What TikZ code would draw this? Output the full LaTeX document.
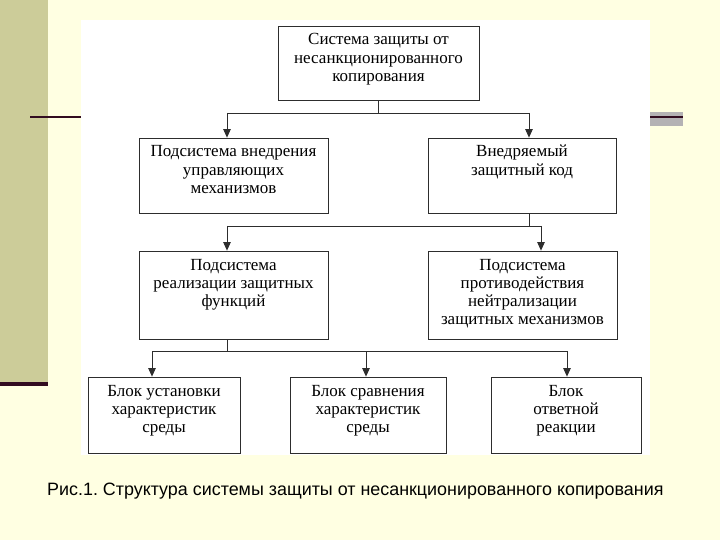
\documentclass[tikz,border=0pt]{standalone}
\usepackage{fontspec}
\setmainfont{Liberation Serif}
\newfontfamily\capfont{Liberation Sans}
\usetikzlibrary{arrows.meta}
\frenchspacing

\definecolor{cream}{RGB}{255,255,226}
\definecolor{khaki}{RGB}{204,204,153}
\definecolor{darkmaroon}{RGB}{50,12,32}
\definecolor{bargray}{RGB}{180,178,180}
\definecolor{linegray}{RGB}{45,45,45}

% top-aligned text block of fixed size
\newcommand{\blocktext}[3]{\parbox[c][#2][t]{#1}{\centering\rule{0pt}{19pt}#3}}

\begin{document}
\begin{tikzpicture}[x=1pt,y=-1pt]
        \useasboundingbox (0,0) rectangle (720,540);

        % slide backdrop
        \fill[cream] (0,0) rectangle (720,540);
        \fill[khaki] (0,0) rectangle (48,382);
        \fill[darkmaroon] (0,382) rectangle (48,386);
        \draw[darkmaroon, line width=2pt] (30,117) -- (81,117);
        \fill[bargray] (649,112) rectangle (683,126);
        \draw[darkmaroon, line width=1.4pt] (649,117) -- (683,117);
        \fill[white] (81,20) rectangle (650,455);

        \begin{scope}[every node/.style={draw=linegray,line width=0.8pt,inner sep=0pt,
            text=black,font=\fontsize{17}{18.3}\selectfont}]
          \node (sys)    at (378.5,63)  {\blocktext{201pt}{74pt}{Система защиты от\\несанкционированного\\копирования}};
          \node (vnedr)  at (233.5,175.5) {\blocktext{189pt}{75pt}{Подсистема внедрения\\управляющих\\механизмов}};
          \node (kod)    at (522,175.5) {\blocktext{188pt}{75pt}{Внедряемый\\защитный код}};
          \node (realiz) at (233.5,295) {\blocktext{189pt}{88pt}{Подсистема\\реализации защитных\\функций}};
          \node (protiv) at (522.5,295) {\blocktext{189pt}{88pt}{Подсистема\\противодействия\\нейтрализации\\защитных механизмов}};
          \node (ust)    at (164,415)   {\blocktext{152pt}{76pt}{Блок установки\\характеристик\\среды}};
          \node (sravn)  at (368,415)   {\blocktext{156pt}{76pt}{Блок сравнения\\характеристик\\среды}};
          \node (otv)    at (566,415)   {\blocktext{150pt}{76pt}{Блок\\ответной\\реакции}};
        \end{scope}

        \begin{scope}[draw=linegray, line width=0.8pt, arr/.style={-{Triangle[length=8.5pt,width=7.5pt]}}]
          \coordinate (j1l) at (227,113);
          \coordinate (j1r) at (529,113);
          \coordinate (j2k) at (529,226);
          \coordinate (j2l) at (227,226);
          \coordinate (j2r) at (541,226);
          \coordinate (j3)  at (227,351);
          \coordinate (j3a) at (152,351);
          \coordinate (j3b) at (366,351);
          \coordinate (j3c) at (567,351);

          \draw (sys) -- (sys |- j1l);
          \draw (j1l) -- (j1r);
          \draw[arr] (j1l) -- (j1l |- vnedr.north);
          \draw[arr] (j1r) -- (j1r |- kod.north);

          \draw (j2k |- kod.south) -- (j2k);
          \draw (j2l) -- (j2r);
          \draw[arr] (j2l) -- (j2l |- realiz.north);
          \draw[arr] (j2r) -- (j2r |- protiv.north);

          \draw (j3 |- realiz.south) -- (j3);
          \draw (j3a) -- (j3c);
          \draw[arr] (j3a) -- (j3a |- ust.north);
          \draw[arr] (j3b) -- (j3b |- sravn.north);
          \draw[arr] (j3c) -- (j3c |- otv.north);
        \end{scope}

        \node[anchor=west, inner sep=0pt, font=\capfont\fontsize{17.9}{20}\selectfont] (cap) at (47,491)
          {Рис.1. Структура системы защиты от несанкционированного копирования};

      \end{tikzpicture}
\end{document}
